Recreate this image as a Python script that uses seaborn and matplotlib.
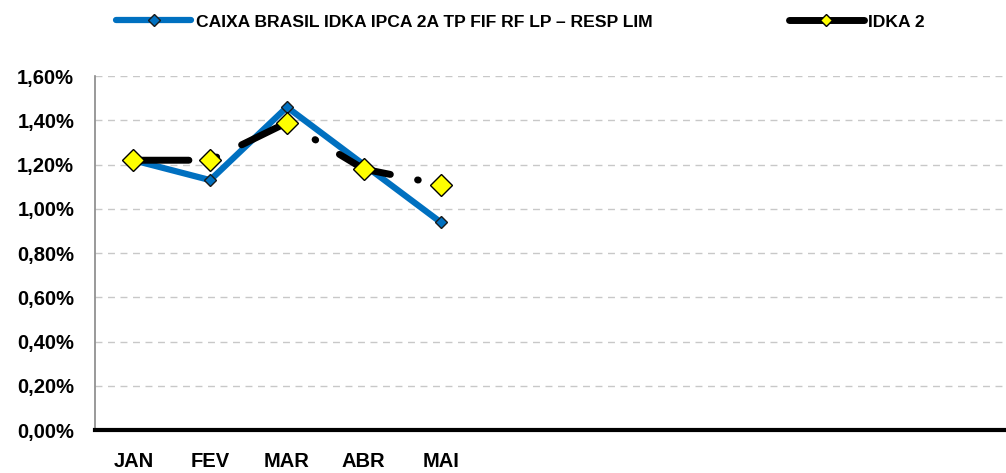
import pandas as pd
import matplotlib.pyplot as plt
import seaborn as sns

# monthly returns (%)
months = ['JAN', 'FEV', 'MAR', 'ABR', 'MAI']
fundo = [1.22, 1.13, 1.46, 1.20, 0.94]
idka2 = [1.22, 1.22, 1.39, 1.18, 1.11]
n_slots = 12  # full year of category slots on the x axis

fundo_name = 'CAIXA BRASIL IDKA IPCA 2A TP FIF RF LP \u2013 RESP LIM'
idka_name = 'IDKA 2'

df = pd.DataFrame({'pos': range(len(months)), 'mes': months,
                   'fundo': fundo, 'idka2': idka2})

sns.set_style('white')
plt.rcParams['font.family'] = ['Liberation Sans', 'DejaVu Sans']
plt.rcParams['text.color'] = 'black'
plt.rcParams['xtick.labelcolor'] = 'black'
plt.rcParams['ytick.labelcolor'] = 'black'

fig = plt.figure(figsize=(10.06, 4.73), dpi=100)
ax = fig.add_axes([0.0944, 0.0909, 0.9056, 0.748])

# fund line
sns.lineplot(data=df, x='pos', y='fundo', ax=ax, color='#0070C0', linewidth=4.5,
             marker='D', markersize=6, markerfacecolor='#0070C0',
             markeredgecolor='#1a1a1a', markeredgewidth=1.0, label=fundo_name,
             zorder=3)
# benchmark line (broken black line with yellow diamonds)
sns.lineplot(data=df, x='pos', y='idka2', ax=ax, color='black', linewidth=5,
             marker='D', markersize=11, markerfacecolor='#FFFF00',
             markeredgecolor='black', markeredgewidth=1.0, label=idka_name,
             zorder=4)
bench = ax.lines[-1]
bench.set_linestyle((0, (8, 4, 0.1, 4)))
bench.set_dash_capstyle('round')

ax.set_ylim(0, 1.6)
ax.set_xlim(-0.5, (1006 - 95) / 76.8 - 0.5)

# y axis
yt = [i * 0.2 for i in range(9)]
ax.set_yticks(yt)
ax.set_yticklabels([f'{v:.2f}%'.replace('.', ',') for v in yt],
                   fontsize=14.5, fontweight='bold')
ax.yaxis.grid(True, linestyle=(0, (5, 4)), color='#c8c8c8', linewidth=1)
ax.tick_params(axis='y', length=5, color='#888888', width=1, pad=10)

# x axis: ticks between categories, labels centred
ax.set_xticks([i - 0.5 for i in range(n_slots)])
ax.set_xticklabels([])
ax.set_xticks(range(len(months)), minor=True)
ax.set_xticklabels(months, minor=True, fontsize=14.5, fontweight='bold')
ax.tick_params(axis='x', which='major', length=5, width=3, color='black')
ax.tick_params(axis='x', which='minor', length=0, pad=16)
ax.set_xlabel('')
ax.set_ylabel('')

for s in ['top', 'right']:
    ax.spines[s].set_visible(False)
ax.spines['left'].set_color('#888888')
ax.spines['left'].set_linewidth(1.2)
ax.spines['bottom'].set_color('black')
ax.spines['bottom'].set_linewidth(3)

leg = ax.legend(loc='center left', bbox_to_anchor=(116 / 1006, 1 - 22 / 473),
                bbox_transform=fig.transFigure, ncol=2, frameon=False,
                borderpad=0, borderaxespad=0, handlelength=4.3,
                columnspacing=7.8, handletextpad=0.25,
                prop={'weight': 'bold', 'size': 12.6})
for h in leg.legend_handles:
    h.set_linestyle('-')
    h.set_markersize(6)

plt.savefig('out.png', dpi=100)
